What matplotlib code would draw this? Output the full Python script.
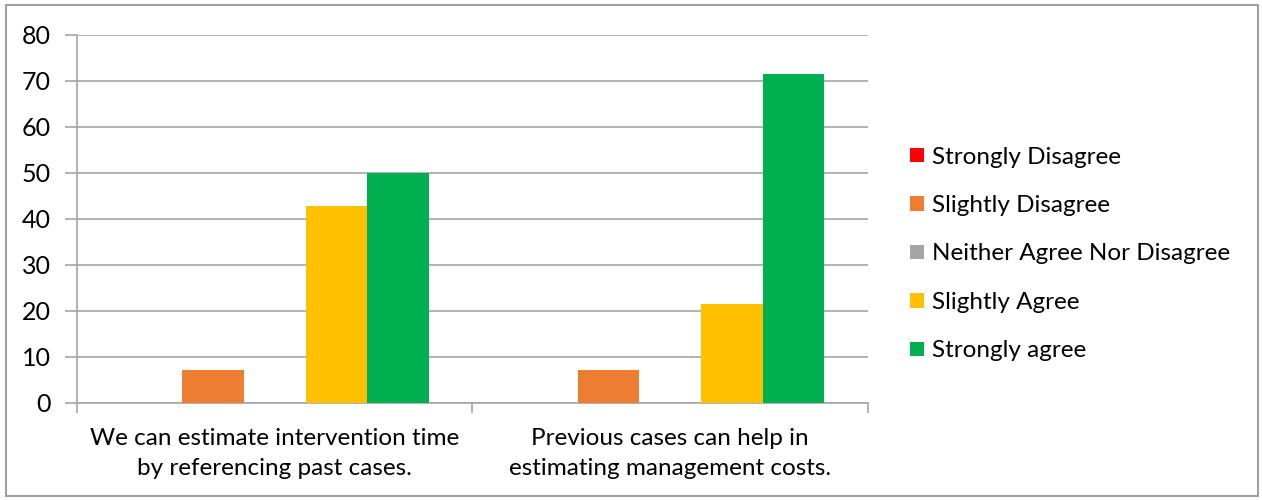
import matplotlib.pyplot as plt
import numpy as np
from matplotlib.patches import Rectangle, Patch

categories = ['We can estimate intervention time\nby referencing past cases.',
              'Previous cases can help in\nestimating management costs.']
series = ['Strongly Disagree', 'Slightly Disagree', 'Neither Agree Nor Disagree',
          'Slightly Agree', 'Strongly agree']
strongly_disagree = [0, 0]
slightly_disagree = [7.14, 7.14]
neither = [0, 0]
slightly_agree = [42.86, 21.43]
strongly_agree = [50.0, 71.43]
colors = ['#FF0000', '#ED7D31', '#A5A5A5', '#FFC000', '#00B050']

values = [strongly_disagree, slightly_disagree, neither, slightly_agree, strongly_agree]

plt.rcParams['font.family'] = ['Lato', 'DejaVu Sans']
fs = 17.5
fig = plt.figure(figsize=(12.62, 5.0), dpi=100)
ax = fig.add_axes([0.061, 0.194, 0.6268, 0.736])

grid_c = '#A6A6A6'
width = 0.1557
x = np.arange(len(categories))
for i, (name, vals, c) in enumerate(zip(series, values, colors)):
    offs = (i - 2) * width
    ax.bar(x + offs, vals, width, color=c, label=name, zorder=3)

ax.set_xlim(-0.5, 1.5)
ax.set_ylim(0, 80)
ax.set_yticks(range(0, 81, 10))
ax.yaxis.grid(True, color=grid_c, linewidth=1.2, zorder=0)
ax.tick_params(axis='y', length=9, width=1.2, color=grid_c, labelsize=18, pad=10)

# group labels drawn as text, ticks placed on group boundaries
ax.set_xticks([-0.5, 0.5, 1.5])
ax.set_xticklabels([])
ax.tick_params(axis='x', length=7, width=1.2, color=grid_c)
for xi, lab in zip(x, categories):
    ax.text(xi, -5.4, lab, ha='center', va='top', fontsize=fs,
            linespacing=1.55, transform=ax.transData)

for s in ['top', 'right']:
    ax.spines[s].set_visible(False)
for s in ['left', 'bottom']:
    ax.spines[s].set_color(grid_c)
    ax.spines[s].set_linewidth(1.2)

handles = [Patch(facecolor=c, label=n) for n, c in zip(series, colors)]
fig.legend(handles=handles, loc='center left', bbox_to_anchor=(0.704, 0.492),
           frameon=False, fontsize=fs, handlelength=0.55, handleheight=0.55,
           handletextpad=0.35, labelspacing=1.13)

fig.add_artist(Rectangle((0.005, 0.008), 0.992, 0.982, transform=fig.transFigure,
                         fill=False, edgecolor='#A0A0A0', linewidth=1.5))

fig.savefig('out.png', dpi=100)
